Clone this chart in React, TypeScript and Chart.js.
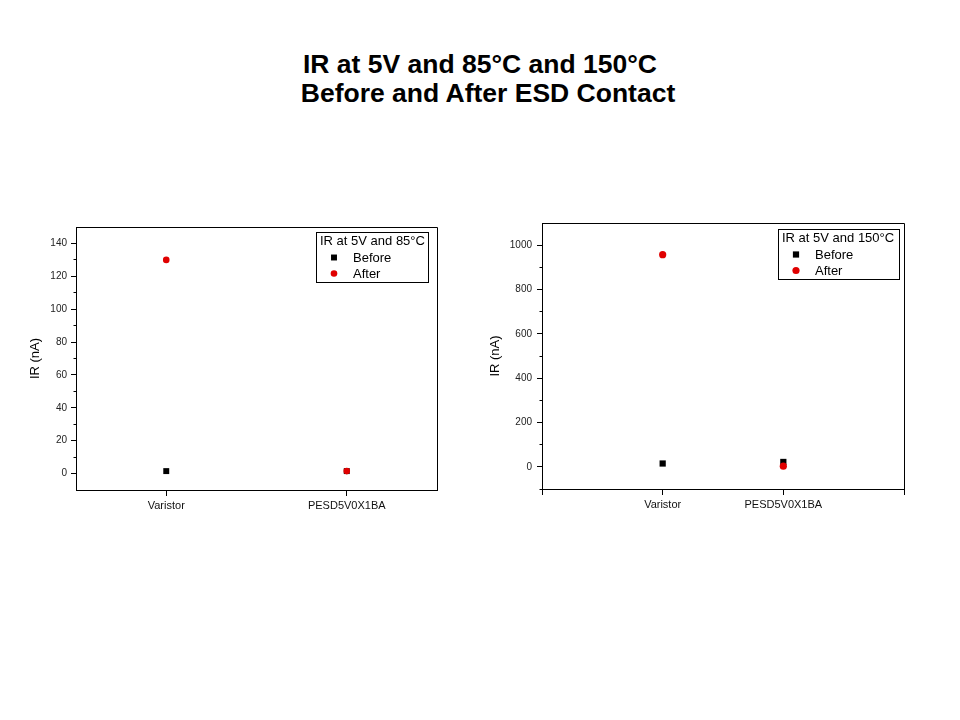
import { useEffect, useRef } from 'react';
import { Chart, registerables } from 'chart.js';

Chart.register(...registerables);

const FONT = '"Liberation Sans", Arial, Helvetica, sans-serif';

// ---- data ----
const categories = ['Varistor', 'PESD5V0X1BA'];
const seriesLabels = ['Before', 'After'];
const before85 = [1.5, 1.5];
const after85 = [130, 1.5];
const before150 = [15, 22];
const after150 = [957, 3];
const yTicks85 = [0, 20, 40, 60, 80, 100, 120, 140];
const yMinor85 = [10, 30, 50, 70, 90, 110, 130];
const yTicks150 = [0, 200, 400, 600, 800, 1000];
const yMinor150 = [-100, 100, 300, 500, 700, 900];
const xTicks85 = [1, 2];
const xTicks150 = [0, 1, 2, 3];
const legendTitle85 = 'IR at 5V and 85°C';
const legendTitle150 = 'IR at 5V and 150°C';
const yTitle = 'IR (nA)';
const titleLine1 = 'IR at 5V and 85°C and 150°C';
const titleLine2 = 'Before and After ESD Contact';

const RED = '#e00000';
const BLACK = '#000000';

const align = (v: number) => Math.round(v - 0.5) + 0.5;

const framePlugin = {
  id: 'frame',
  afterDraw(chart: any) {
    const { ctx, chartArea: a } = chart;
    ctx.save();
    ctx.strokeStyle = '#000';
    ctx.lineWidth = 1;
    ctx.beginPath();
    const l = align(a.left), r = align(a.right), t = align(a.top), b = align(a.bottom);
    ctx.moveTo(l, t);
    ctx.lineTo(r, t);
    ctx.lineTo(r, b);
    ctx.stroke();
    ctx.restore();
  },
};

const minorTicksPlugin = {
  id: 'minorTicks',
  afterDraw(chart: any, _args: any, opts: any) {
    const scale = chart.scales.y;
    const { ctx } = chart;
    const x = align(scale.right);
    ctx.save();
    ctx.strokeStyle = '#000';
    ctx.lineWidth = 1;
    ctx.beginPath();
    (opts.values || []).forEach((v: number) => {
      const y = align(scale.getPixelForValue(v));
      ctx.moveTo(x - opts.length, y);
      ctx.lineTo(x, y);
    });
    ctx.stroke();
    ctx.restore();
  },
};

const boxLegendPlugin = {
  id: 'boxLegend',
  afterDraw(chart: any, _args: any, opts: any) {
    const { ctx } = chart;
    const { x, y, w, h, title } = opts;
    ctx.save();
    ctx.fillStyle = '#fff';
    ctx.fillRect(x, y, w, h);
    ctx.strokeStyle = '#000';
    ctx.lineWidth = 1;
    ctx.strokeRect(Math.round(x) + 0.5, Math.round(y) + 0.5, w, h);
    ctx.fillStyle = '#000';
    ctx.font = `13px ${FONT}`;
    ctx.textBaseline = 'middle';
    ctx.textAlign = 'left';
    ctx.fillText(title, x + 4, y + 9.5);
    chart.data.datasets.forEach((ds: any, i: number) => {
      const cy = y + 25.5 + 16 * i;
      const cx = x + 18;
      const r = ds.pointRadius;
      ctx.fillStyle = ds.backgroundColor;
      if (ds.pointStyle === 'rect') {
        const s = Math.SQRT1_2 * r;
        ctx.fillRect(cx - s, cy - s, 2 * s, 2 * s);
      } else {
        ctx.beginPath();
        ctx.arc(cx, cy, r, 0, Math.PI * 2);
        ctx.fill();
      }
      ctx.fillStyle = '#000';
      ctx.fillText(ds.label, x + 37, cy + 0.5);
    });
    ctx.restore();
  },
};

interface Cfg {
  before: number[];
  after: number[];
  xMin: number;
  xMax: number;
  xTicks: number[];
  yMin: number;
  yMax: number;
  yTicks: number[];
  yMinor: number[];
  legendTitle: string;
  padTop: number;
  padRight: number;
  yWidth: number;
  xHeight: number;
  yTickPad: number;
  titlePad: number;
  markerSquare: number;
  markerCircle: number;
  legend: { x: number; y: number; w: number; h: number };
}

function makeConfig(c: Cfg): any {
  const toPts = (arr: number[]) => arr.map((v, i) => ({ x: i + 1, y: v }));
  return {
    type: 'scatter',
    data: {
      datasets: [
        {
          label: seriesLabels[0],
          data: toPts(c.before),
          pointStyle: 'rect',
          pointRadius: c.markerSquare,
          backgroundColor: BLACK,
          borderColor: BLACK,
          pointBorderWidth: 0,
          showLine: false,
          order: 2,
        },
        {
          label: seriesLabels[1],
          data: toPts(c.after),
          pointStyle: 'circle',
          pointRadius: c.markerCircle,
          backgroundColor: RED,
          borderColor: RED,
          pointBorderWidth: 0,
          showLine: false,
          order: 1,
        },
      ],
    },
    options: {
      responsive: false,
      animation: false,
      events: [],
      layout: { padding: { left: 0, top: c.padTop, right: c.padRight, bottom: 0 } },
      plugins: {
        legend: { display: false },
        title: { display: false },
        tooltip: { enabled: false },
        minorTicks: { values: c.yMinor, length: 3 },
        boxLegend: { ...c.legend, title: c.legendTitle },
      },
      scales: {
        x: {
          type: 'linear',
          min: c.xMin,
          max: c.xMax,
          afterBuildTicks: (s: any) => {
            s.ticks = c.xTicks.map((v) => ({ value: v }));
          },
          afterFit: (s: any) => {
            s.height = c.xHeight;
          },
          ticks: {
            autoSkip: false,
            maxRotation: 0,
            padding: 3,
            color: '#111',
            font: { family: FONT, size: 11 },
            callback: (v: number) => categories[v - 1] ?? '',
          },
          grid: { drawOnChartArea: false, drawTicks: true, tickLength: 6, tickColor: '#000', tickWidth: 1 },
          border: { display: true, color: '#000', width: 1 },
        },
        y: {
          type: 'linear',
          min: c.yMin,
          max: c.yMax,
          afterBuildTicks: (s: any) => {
            s.ticks = c.yTicks.map((v) => ({ value: v }));
          },
          afterFit: (s: any) => {
            s.width = c.yWidth;
          },
          ticks: {
            padding: c.yTickPad,
            color: '#222',
            font: { family: FONT, size: 10 },
            callback: (v: number) => String(v),
          },
          grid: { drawOnChartArea: false, drawTicks: true, tickLength: 5, tickColor: '#000', tickWidth: 1 },
          border: { display: true, color: '#000', width: 1 },
          title: {
            display: true,
            text: yTitle,
            color: '#000',
            font: { family: FONT, size: 13 },
            padding: { top: c.titlePad, bottom: 0 },
          },
        },
      },
    },
    plugins: [framePlugin, minorTicksPlugin, boxLegendPlugin],
  };
}

export default function App() {
  const leftRef = useRef<HTMLCanvasElement | null>(null);
  const rightRef = useRef<HTMLCanvasElement | null>(null);

  useEffect(() => {
    const left = new Chart(
      leftRef.current as HTMLCanvasElement,
      makeConfig({
        before: before85,
        after: after85,
        xMin: 0.5,
        xMax: 2.5,
        xTicks: xTicks85,
        yMin: -10,
        yMax: 150,
        yTicks: yTicks85,
        yMinor: yMinor85,
        legendTitle: legendTitle85,
        padTop: 27,
        padRight: 23,
        yWidth: 76,
        xHeight: 40,
        yTickPad: 4,
        titlePad: 28,
        markerSquare: 4.2,
        markerCircle: 3.3,
        legend: { x: 316, y: 32, w: 112, h: 50 },
      })
    );
    const right = new Chart(
      rightRef.current as HTMLCanvasElement,
      makeConfig({
        before: before150,
        after: after150,
        xMin: 0,
        xMax: 3,
        xTicks: xTicks150,
        yMin: -100,
        yMax: 1100,
        yTicks: yTicks150,
        yMinor: yMinor150,
        legendTitle: legendTitle150,
        padTop: 23,
        padRight: 36,
        yWidth: 72,
        xHeight: 41,
        yTickPad: 5,
        titlePad: 18,
        markerSquare: 4.4,
        markerCircle: 3.6,
        legend: { x: 308, y: 29, w: 121, h: 50 },
      })
    );
    return () => {
      left.destroy();
      right.destroy();
    };
  }, []);

  return (
    <div
      style={{
        position: 'absolute',
        left: 0,
        top: 0,
        width: 960,
        height: 720,
        background: '#fff',
        fontFamily: FONT,
        overflow: 'hidden',
      }}
    >
      <div
        style={{
          position: 'absolute',
          left: 0,
          top: 49.5,
          width: 960,
          textAlign: 'center',
          fontWeight: 'bold',
          fontSize: 26.5,
          lineHeight: '29px',
          color: '#000',
        }}
      >
        <div>{titleLine1}</div>
        <div style={{ paddingLeft: 16 }}>{titleLine2}</div>
      </div>
      <canvas
        ref={leftRef}
        width={460}
        height={330}
        style={{ position: 'absolute', left: 0, top: 200, width: 460, height: 330 }}
      />
      <canvas
        ref={rightRef}
        width={470}
        height={330}
        style={{ position: 'absolute', left: 470, top: 200, width: 470, height: 330 }}
      />
    </div>
  );
}
